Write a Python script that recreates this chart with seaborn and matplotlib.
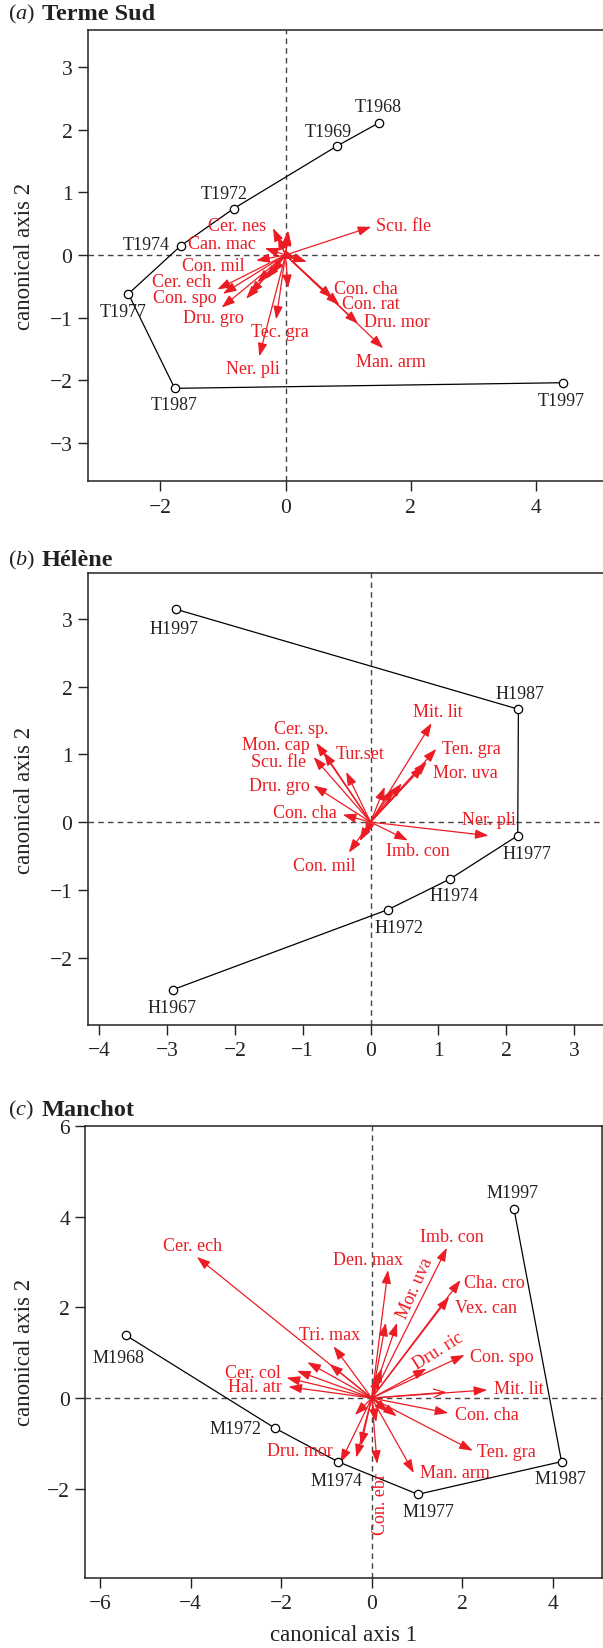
import numpy as np
import pandas as pd
import matplotlib
matplotlib.use("Agg")
import matplotlib.pyplot as plt
import seaborn as sns

# --- dados ---

# (a) Terme Sud
a_sites = ["T1968", "T1969", "T1972", "T1974", "T1977", "T1987", "T1997"]
a_x = [1.49, 0.83, -0.83, -1.67, -2.51, -1.77, 4.44]
a_y = [2.11, 1.745, 0.74, 0.15, -0.62, -2.13, -2.04]
a_site_lx = [1.48, 0.69, -0.98, -2.22, -2.60, -1.78, 4.41]
a_site_ly = [2.37, 1.98, 0.99, 0.17, -0.90, -2.39, -2.33]
a_arr_x = [1.37, -0.20, 0.04, -0.12, 0.05, -0.33, 0.34, 0.18, -0.47, -1.09, -1.00, -1.02,
           -0.63, -0.57, -0.45, -0.31, -0.22, -0.15, -0.42, 0.04, 0.75, 0.86, 1.16, 1.56]
a_arr_y = [0.45, 0.43, 0.39, 0.30, 0.36, 0.11, -0.11, -0.06, -0.09, -0.55, -0.62, -0.84,
           -0.70, -0.62, -0.44, -0.38, -0.30, -1.03, -1.62, -0.53, -0.69, -0.80, -1.10, -1.49]
a_sp = ["Scu. fle", "Cer. nes", "Can. mac", "Con. mil", "Cer. ech", "Con. spo", "Dru. gro",
        "Tec. gra", "Ner. pli", "Con. cha", "Con. rat", "Dru. mor", "Man. arm"]
a_sp_x = [1.88, -0.78, -1.02, -1.15, -1.66, -1.61, -1.16, -0.09, -0.52, 1.28, 1.37, 1.78, 1.69]
a_sp_y = [0.47, 0.47, 0.18, -0.17, -0.43, -0.68, -1.00, -1.23, -1.82, -0.53, -0.77, -1.07, -1.70]
a_sp_rot = [0] * 13

# (b) Hélène
b_sites = ["H1967", "H1972", "H1974", "H1977", "H1987", "H1997"]
b_x = [-2.91, 0.26, 1.17, 2.17, 2.18, -2.87]
b_y = [-2.47, -1.29, -0.84, -0.20, 1.665, 3.14]
b_site_lx = [-2.93, 0.42, 1.23, 2.30, 2.20, -2.90]
b_site_ly = [-2.73, -1.55, -1.09, -0.46, 1.90, 2.86]
b_arr_x = [0.90, 0.97, 0.83, 0.78, 0.21, 0.34, 0.46, -0.80, -0.69, -0.84, -0.36, -0.84,
           -0.41, -0.32, -0.16, -0.08, 0.55, 1.74]
b_arr_y = [1.46, 1.08, 0.89, 0.83, 0.52, 0.49, 0.57, 1.17, 1.03, 0.96, 0.74, 0.54,
           0.11, -0.45, -0.28, -0.20, -0.27, -0.20]
b_sp = ["Mit. lit", "Cer. sp.", "Mon. cap", "Tur.set", "Scu. fle", "Ten. gra", "Mor. uva",
        "Dru. gro", "Con. cha", "Ner. pli", "Imb. con", "Con. mil"]
b_sp_x = [0.99, -1.02, -1.39, -0.15, -1.35, 1.48, 1.40, -1.35, -0.97, 1.74, 0.70, -0.68]
b_sp_y = [1.63, 1.38, 1.15, 1.01, 0.89, 1.08, 0.73, 0.54, 0.14, 0.04, -0.42, -0.64]
b_sp_rot = [0] * 12

# (c) Manchot
c_sites = ["M1968", "M1972", "M1974", "M1977", "M1987", "M1997"]
c_x = [-5.42, -2.14, -0.75, 1.02, 4.19, 3.14]
c_y = [1.38, -0.66, -1.40, -2.12, -1.40, 4.17]
c_site_lx = [-5.60, -3.01, -0.77, 1.26, 4.16, 3.11]
c_site_ly = [0.90, -0.68, -1.82, -2.51, -1.78, 4.52]
c_arr_x = [-3.86, -0.84, -0.93, -1.42, -1.65, -1.88, -1.84, 0.36, 0.31, 0.56, 1.66, 1.96,
           1.71, 1.21, 2.05, 2.55, 0.22, 0.15, 1.69, 2.23, 0.93, 0.12, 0.10, 0.55, 0.36,
           -0.69, -0.34, -0.24, -0.37]
c_arr_y = [3.11, 1.14, 0.75, 0.79, 0.60, 0.45, 0.25, 2.82, 1.66, 1.66, 3.31, 2.60,
           2.23, 0.65, 0.95, 0.18, 0.65, 0.50, -0.33, -1.16, -1.65, -1.45, -0.53, -0.40, -0.31,
           -1.42, -1.31, -1.05, -0.37]
c_open_x = [1.65]
c_open_y = [0.13]
c_sp = ["Cer. ech", "Den. max", "Imb. con", "Mor. uva", "Cha. cro", "Vex. can", "Tri. max",
        "Dru. ric", "Con. spo", "Cer. col", "Hal. atr", "Mit. lit", "Con. cha", "Ten. gra",
        "Man. arm", "Dru. mor", "Con. ebr"]
c_sp_x = [-3.96, -0.08, 1.78, 0.95, 2.70, 2.53, -0.93, 1.47, 2.87, -2.63, -2.58, 3.25,
          2.55, 2.98, 1.83, -1.59, 0.19]
c_sp_y = [3.37, 3.05, 3.55, 2.43, 2.55, 1.99, 1.41, 1.05, 0.91, 0.56, 0.25, 0.21,
          -0.36, -1.18, -1.65, -1.15, -2.32]
c_sp_rot = [0, 0, 0, 66, 0, 0, 0, 32, 0, 0, 0, 0, 0, 0, 0, 0, 90]

# --- aparência ---
RED = "#ec1c24"
W, H = 603, 1649

sns.set_style("ticks")
plt.rcParams["font.family"] = ["Liberation Serif", "DejaVu Serif"]
plt.rcParams["mathtext.fontset"] = "custom"
plt.rcParams["mathtext.rm"] = "Liberation Serif"
plt.rcParams["mathtext.it"] = "Liberation Serif:italic"

fig = plt.figure(figsize=(W / 100, H / 100), dpi=100)


def make_ax(left, right, top, bottom):
    return fig.add_axes([left / W, 1 - bottom / H, (right - left) / W, (bottom - top) / H])


def draw_panel(ax, sites, xs, ys, slx, sly, ax_, ay_, sp, spx, spy, sprot, xlim, ylim, xt, yt):
    ax.axhline(0, color="#444444", lw=1, ls=(0, (4, 3)), zorder=1)
    ax.axvline(0, color="#444444", lw=1, ls=(0, (4, 3)), zorder=1)

    df = pd.DataFrame({"x": xs, "y": ys, "site": sites})
    sns.lineplot(data=df, x="x", y="y", sort=False, estimator=None, color="black",
                 lw=0.9, ax=ax, zorder=2)
    sns.scatterplot(data=df, x="x", y="y", marker="o", s=36, facecolor="white",
                    edgecolor="black", linewidth=0.9, ax=ax, zorder=4)
    for name, lx, ly in zip(sites, slx, sly):
        ax.text(lx, ly, name, ha="center", va="center", fontsize=13, color="#222222", zorder=5)

    for dx, dy in zip(ax_, ay_):
        ax.annotate("", xy=(dx, dy), xytext=(0, 0),
                    arrowprops=dict(arrowstyle="-|>,head_length=0.8,head_width=0.28",
                                    color=RED, lw=0.9, shrinkA=0, shrinkB=0,
                                    mutation_scale=10), zorder=3)
    for name, lx, ly, rot in zip(sp, spx, spy, sprot):
        ax.text(lx, ly, name, ha="center", va="center", fontsize=13, color=RED,
                rotation=rot, rotation_mode="anchor", zorder=5)

    ax.set_xlim(*xlim)
    ax.set_ylim(*ylim)
    ax.set_xticks(xt)
    ax.set_yticks(yt)
    ax.set_xticklabels([f"{v}".replace("-", "\u2212") for v in xt])
    ax.set_yticklabels([f"{v}".replace("-", "\u2212") for v in yt])
    ax.tick_params(direction="out", length=7, width=1, labelsize=15.5, colors="#222222")
    ax.tick_params(axis="x", pad=5)
    ax.tick_params(axis="y", pad=4)
    ax.set_xlabel("")
    ax.set_ylabel("")
    for s in ax.spines.values():
        s.set_linewidth(1.1)
        s.set_color("#222222")


ax_a = make_ax(87.7, 612, 30.6, 482)
draw_panel(ax_a, a_sites, a_x, a_y, a_site_lx, a_site_ly, a_arr_x, a_arr_y,
           a_sp, a_sp_x, a_sp_y, a_sp_rot, (-3.16, 5.215), (-3.61, 3.60),
           [-2, 0, 2, 4], [-3, -2, -1, 0, 1, 2, 3])

ax_b = make_ax(87.7, 612, 574.3, 1025.8)
draw_panel(ax_b, b_sites, b_x, b_y, b_site_lx, b_site_ly, b_arr_x, b_arr_y,
           b_sp, b_sp_x, b_sp_y, b_sp_rot, (-4.17, 3.56), (-2.99, 3.67),
           [-4, -3, -2, -1, 0, 1, 2, 3], [-2, -1, 0, 1, 2, 3])

ax_c = make_ax(85.4, 602.3, 1126.8, 1578.8)
draw_panel(ax_c, c_sites, c_x, c_y, c_site_lx, c_site_ly, c_arr_x, c_arr_y,
           c_sp, c_sp_x, c_sp_y, c_sp_rot, (-6.32, 5.09), (-3.96, 6.0),
           [-6, -4, -2, 0, 2, 4], [-2, 0, 2, 4, 6])
for dx, dy in zip(c_open_x, c_open_y):
    ax_c.annotate("", xy=(dx, dy), xytext=(0, 0),
                  arrowprops=dict(arrowstyle="->,head_length=0.8,head_width=0.3",
                                  color=RED, lw=0.9, shrinkA=0, shrinkB=0,
                                  mutation_scale=10), zorder=3)

# títulos dos painéis
for letter, site, ypx in [("a", "Terme Sud", 14), ("b", "Hélène", 560.5), ("c", "Manchot", 1110)]:
    fig.text(8 / W, 1 - ypx / H, r"$\mathrm{(}%s\mathrm{)}$" % letter, fontsize=16,
             ha="left", va="center", color="#222222")
    fig.text(42 / W, 1 - ypx / H, site, fontsize=17.5, fontweight="bold",
             ha="left", va="center", color="#222222")

# rótulos dos eixos
for ypx in [256, 800, 1352]:
    fig.text(25 / W, 1 - ypx / H, "canonical axis 2", rotation=90, fontsize=16.5,
             ha="center", va="center", color="#222222")
fig.text(343 / W, 1 - 1636 / H, "canonical axis 1", fontsize=16.5,
         ha="center", va="center", color="#222222")

fig.savefig("out.png", dpi=100)
